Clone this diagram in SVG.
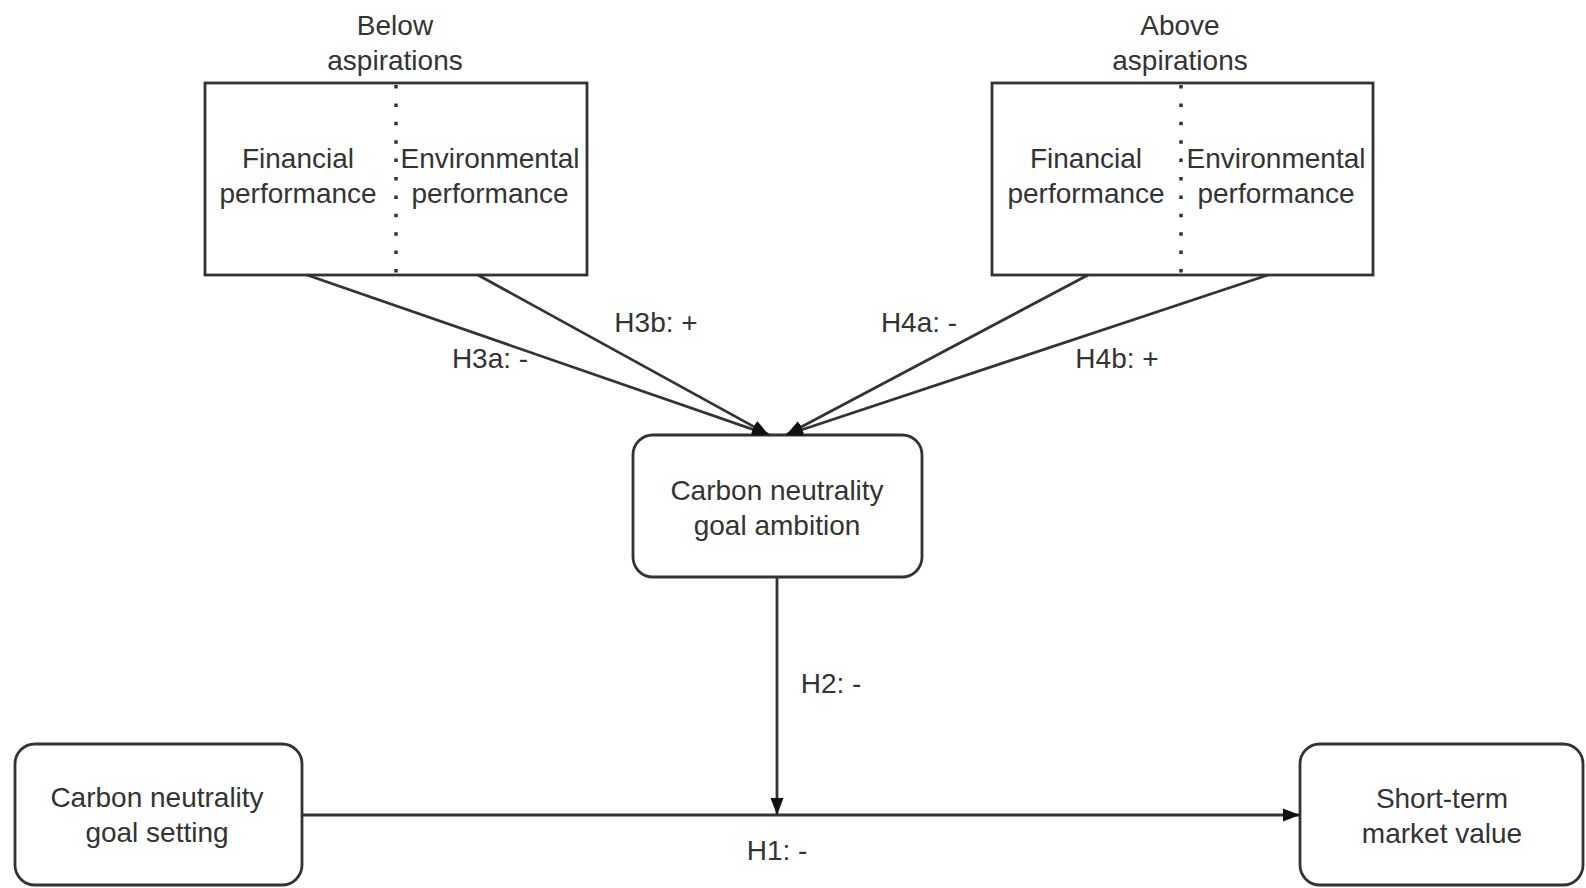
<svg xmlns="http://www.w3.org/2000/svg" width="1586" height="888" viewBox="0 0 1586 888">
<style>
.box{fill:#fff;stroke:#333;stroke-width:2.8}
.div{stroke:#333;stroke-width:3.5;stroke-dasharray:3.5 14.9;fill:none}
.t{font-family:"Liberation Sans",Arial,sans-serif;font-size:28px;fill:#333;text-anchor:middle}
.edge{stroke:#333;stroke-width:2.8;fill:none}
</style>
<defs>
<marker id="arr" markerUnits="userSpaceOnUse" markerWidth="18" markerHeight="16" refX="17" refY="8" orient="auto">
<path d="M0,1.5 L17,8 L0,14.5 Z" fill="#111"/>
</marker>
</defs>
<rect width="1586" height="888" fill="#fff"/>
<g id="below">
<rect class="box" x="205" y="83" width="382" height="192"/>
<line class="div" x1="396" y1="85" x2="396" y2="275"/>
<text class="t" x="395" y="35">Below</text>
<text class="t" x="395" y="70">aspirations</text>
<text class="t" x="298" y="168">Financial</text>
<text class="t" x="298" y="203">performance</text>
<text class="t" x="490" y="168">Environmental</text>
<text class="t" x="490" y="203">performance</text>
</g>
<g id="above">
<rect class="box" x="992" y="83" width="381" height="192"/>
<line class="div" x1="1181" y1="85" x2="1181" y2="275"/>
<text class="t" x="1180" y="35">Above</text>
<text class="t" x="1180" y="70">aspirations</text>
<text class="t" x="1086" y="168">Financial</text>
<text class="t" x="1086" y="203">performance</text>
<text class="t" x="1276" y="168">Environmental</text>
<text class="t" x="1276" y="203">performance</text>
</g>
<g id="ambition">
<rect class="box" x="633" y="435" width="289" height="142" rx="20"/>
<text class="t" x="777" y="500">Carbon neutrality</text>
<text class="t" x="777" y="535">goal ambition</text>
</g>
<g id="setting">
<rect class="box" x="15" y="744" width="287" height="141" rx="20"/>
<text class="t" x="157" y="807">Carbon neutrality</text>
<text class="t" x="157" y="842">goal setting</text>
</g>
<g id="market">
<rect class="box" x="1300" y="744" width="283" height="141" rx="20"/>
<text class="t" x="1442" y="808">Short-term</text>
<text class="t" x="1442" y="843">market value</text>
</g>
<g id="connectors">
<line class="edge" x1="307" y1="275" x2="769" y2="435" marker-end="url(#arr)"/>
<line class="edge" x1="478" y1="275" x2="769" y2="435" marker-end="url(#arr)"/>
<line class="edge" x1="1088" y1="275" x2="786" y2="435" marker-end="url(#arr)"/>
<line class="edge" x1="1268" y1="275" x2="786" y2="435" marker-end="url(#arr)"/>
<line class="edge" x1="777" y1="577" x2="777" y2="815" marker-end="url(#arr)"/>
<line class="edge" x1="302" y1="815" x2="1300" y2="815" marker-end="url(#arr)"/>
<text class="t" x="490" y="368">H3a: -</text>
<text class="t" x="656" y="332">H3b: +</text>
<text class="t" x="919" y="332">H4a: -</text>
<text class="t" x="1117" y="368">H4b: +</text>
<text class="t" x="831" y="693">H2: -</text>
<text class="t" x="777" y="860">H1: -</text>
</g>
</svg>
